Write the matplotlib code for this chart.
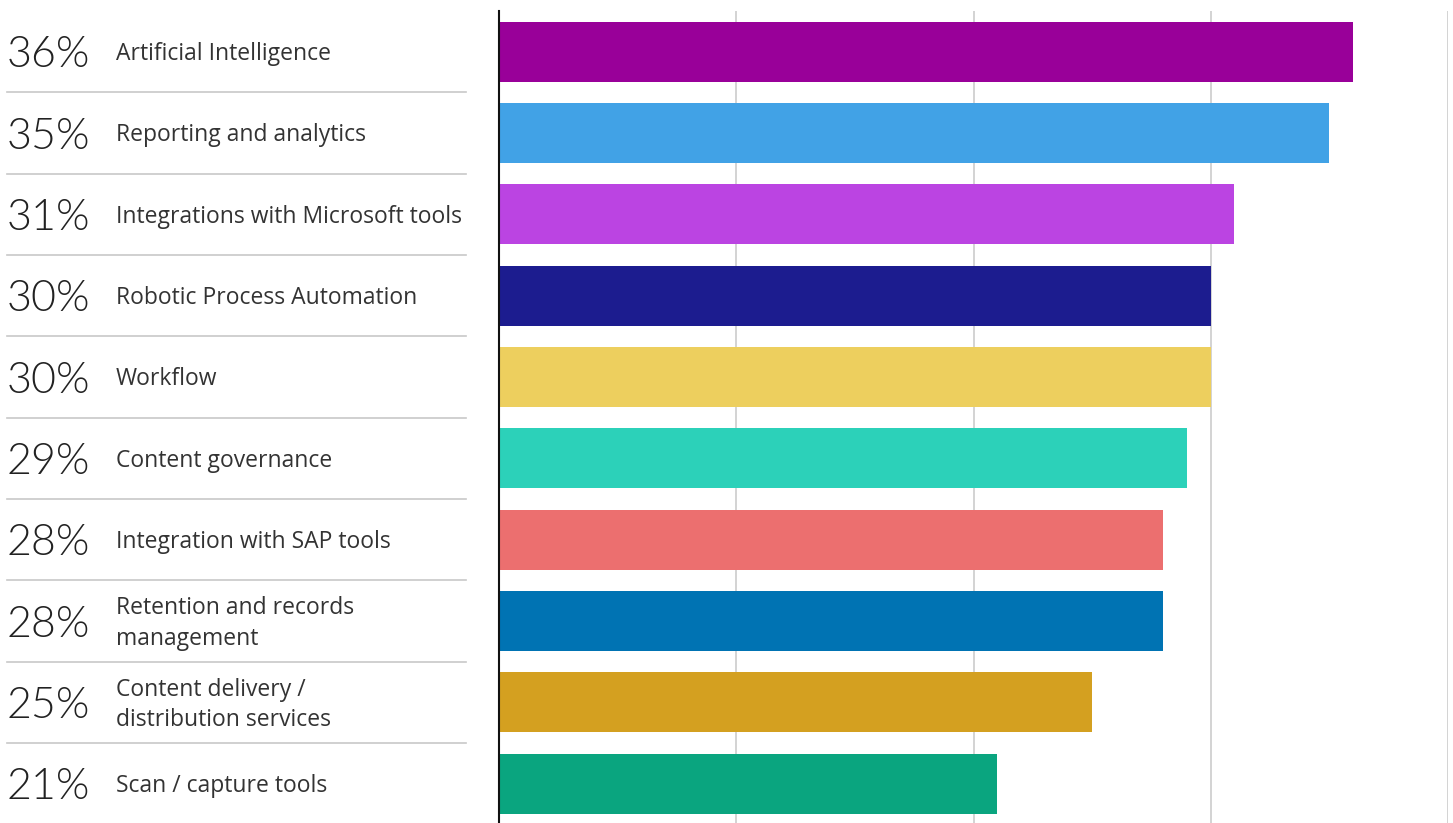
import matplotlib.pyplot as plt
from matplotlib import font_manager as fm

# Data
labels = [
    'Artificial Intelligence',
    'Reporting and analytics',
    'Integrations with Microsoft tools',
    'Robotic Process Automation',
    'Workflow',
    'Content governance',
    'Integration with SAP tools',
    'Retention and records\nmanagement',
    'Content delivery /\ndistribution services',
    'Scan / capture tools',
]
values = [36, 35, 31, 30, 30, 29, 28, 28, 25, 21]
colors = ['#990099', '#41A2E6', '#BB44E2', '#1C1C8F', '#EDCF5E',
          '#2CD1B9', '#EC6F6F', '#0073B3', '#D4A020', '#0AA57F']

# light font for the big percentages
light = [f.fname for f in fm.fontManager.ttflist if f.fname.endswith('Lato-Light.ttf')]
if light:
    pct_font = fm.FontProperties(fname=light[0], size=31)
else:
    pct_font = fm.FontProperties(family='Lato', size=31)

W, H = 1453, 823
fig = plt.figure(figsize=(W / 100, H / 100), dpi=100)

# Bar axes (rows run from y=11 px down past the bottom edge)
ax = fig.add_axes([499 / W, -1.3 / H, (1448 - 499) / W, 813.3 / H])
ypos = list(range(len(values)))
ax.barh(ypos, values, height=0.74, color=colors, zorder=2)
ax.set_xlim(0, 40)
ax.set_ylim(len(values) - 0.5, -0.5)
ax.set_xticks([10, 20, 30, 40])
ax.grid(axis='x', color='#CCCCCC', linewidth=1.2, zorder=0)
ax.tick_params(length=0, labelbottom=False, labelleft=False)
for s in ['top', 'right', 'bottom']:
    ax.spines[s].set_visible(False)
ax.spines['left'].set_linewidth(1.5)
ax.spines['left'].set_color('#111111')

# Left label axes, same rows as the bars
lax = fig.add_axes([0, -1.3 / H, 499 / W, 813.3 / H])
lax.set_xlim(0, 499)
lax.set_ylim(len(values) - 0.5, -0.5)
lax.axis('off')
for i, (lab, v) in enumerate(zip(labels, values)):
    lax.text(7, i + 0.05, f'{v}%', fontproperties=pct_font,
             color='#222222', va='center', ha='left')
    lax.text(116, i + 0.03, lab, fontsize=16.5, family='Open Sans', color='#333333',
             va='center', ha='left', linespacing=1.36)
    if i < len(values) - 1:
        lax.plot([7, 466], [i + 0.5, i + 0.5], color='#C8C8C8', linewidth=1.2)

fig.savefig('out.png', dpi=100)
